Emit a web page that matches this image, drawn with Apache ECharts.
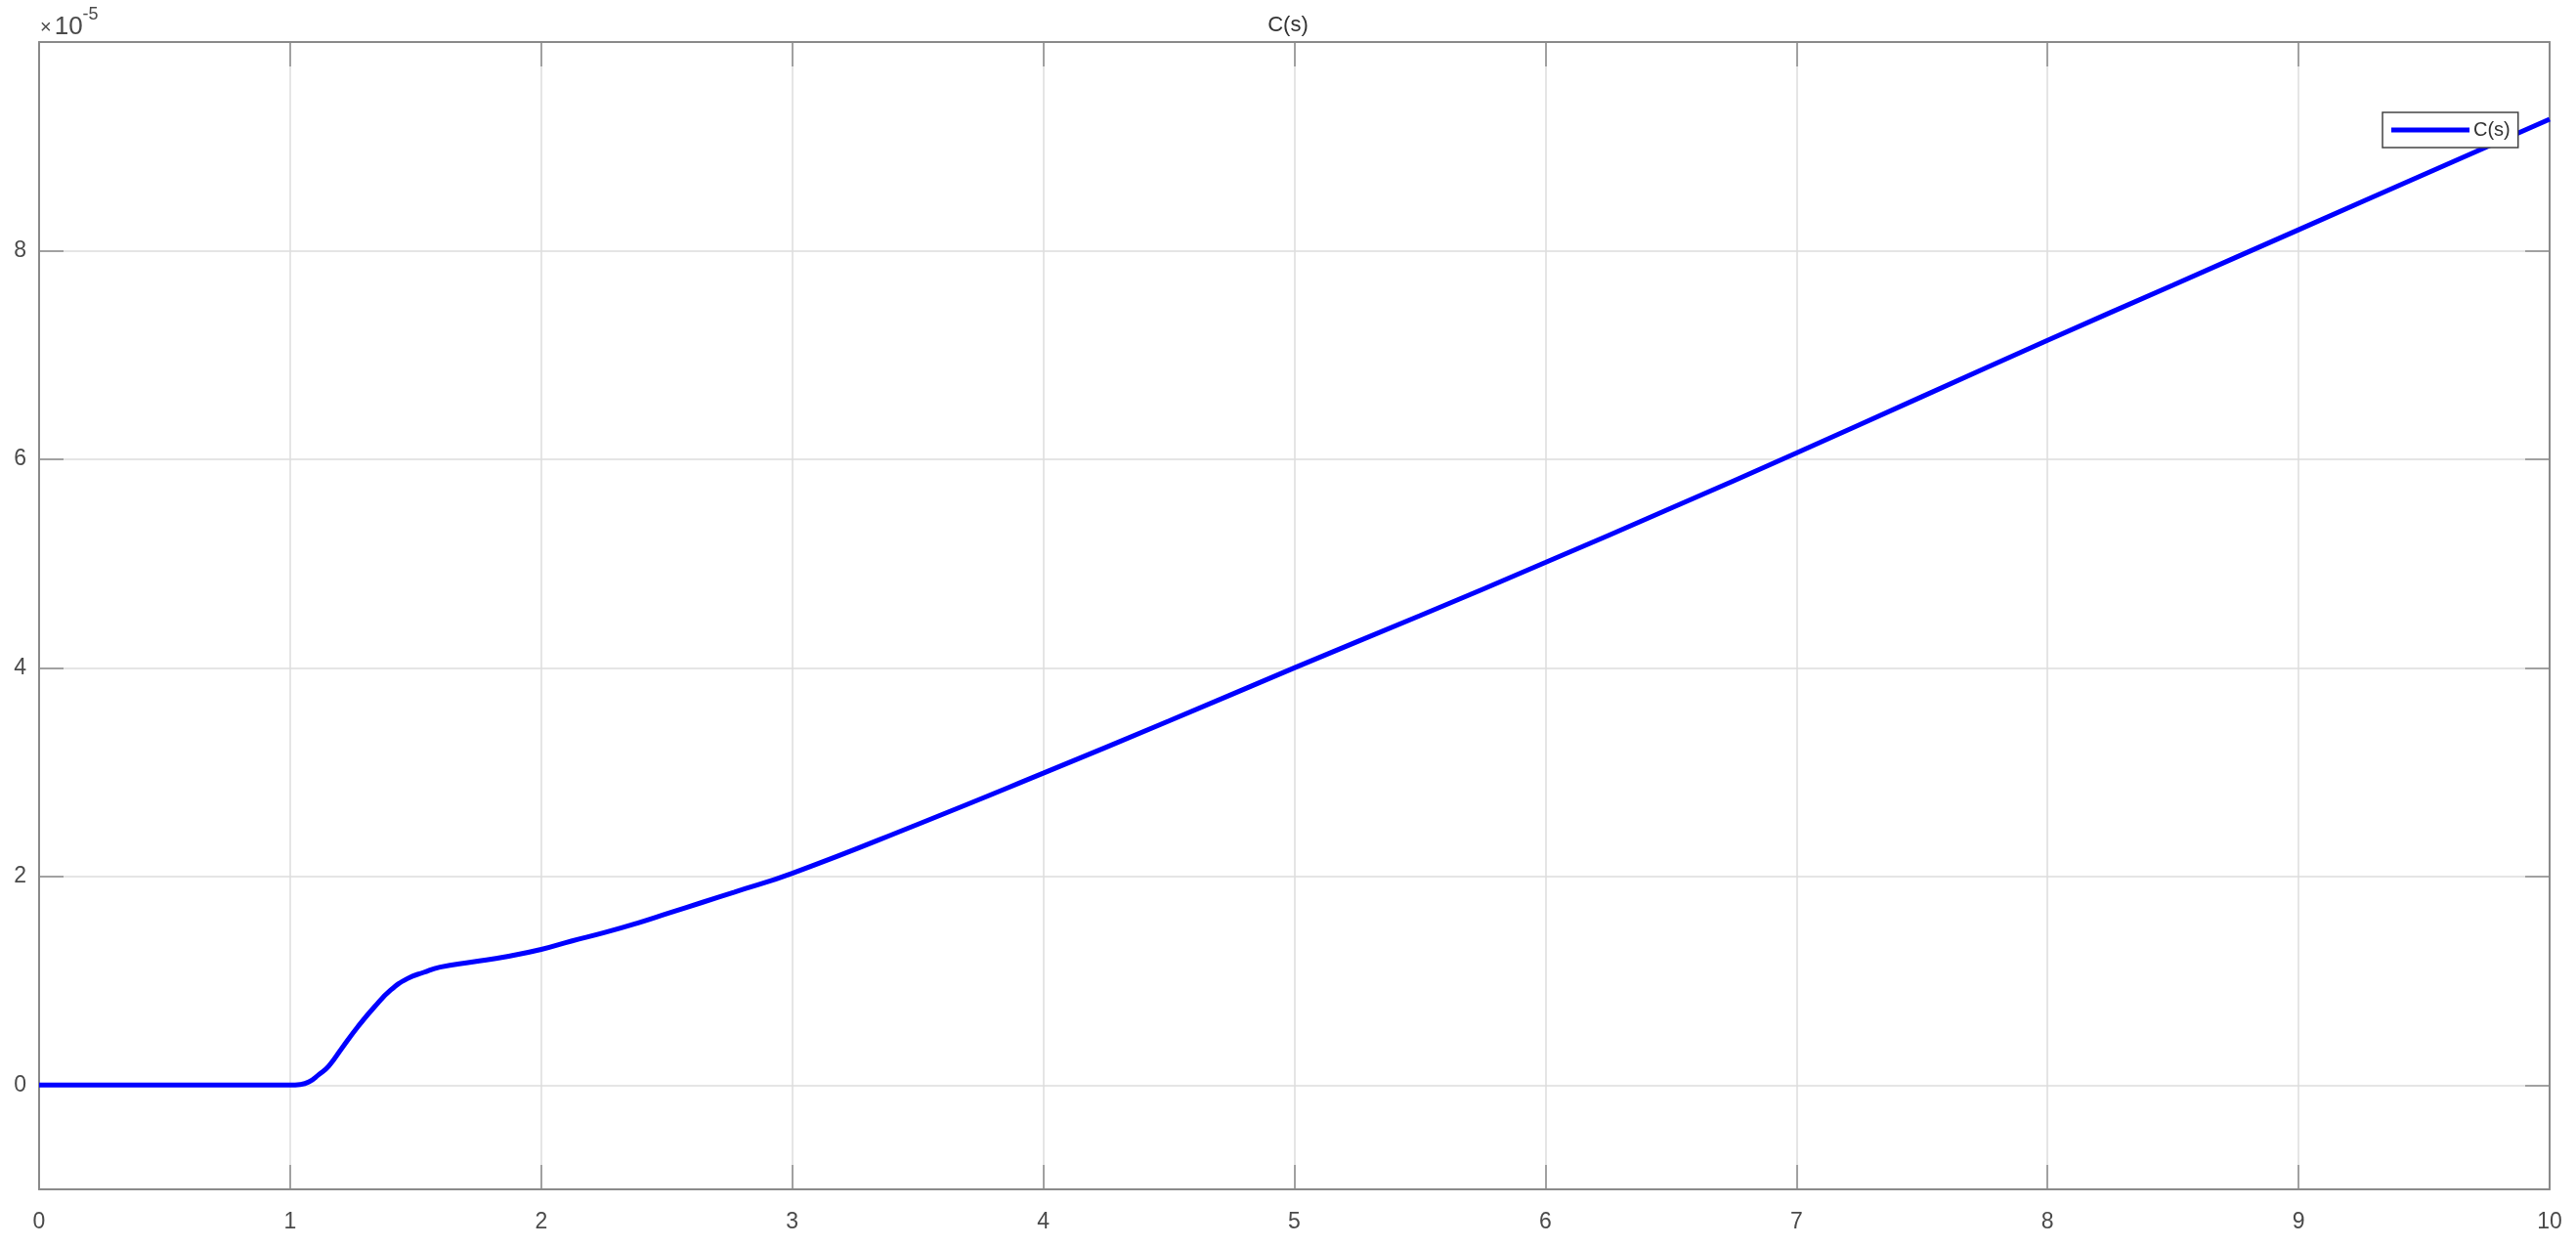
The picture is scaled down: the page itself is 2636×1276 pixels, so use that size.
<!DOCTYPE html>
<html>
<head>
<meta charset="utf-8">
<script src="https://cdn.jsdelivr.net/npm/echarts@6/dist/echarts.min.js"></script>
<style>
html,body{margin:0;padding:0;background:#fff;}
#chart{width:2636px;height:1276px;}
</style>
</head>
<body>
<div id="chart"></div>
<script>
// Time axis (s)
const timeValues = [0, 0.5, 1.0, 1.04, 1.075, 1.114, 1.153, 1.205, 1.27, 1.336, 1.40, 1.467, 1.532, 1.597, 1.728, 1.859, 2.0, 2.12, 2.25, 2.38, 2.51, 2.64, 2.77, 3.0, 3.5, 4.0, 4.5, 5.0, 5.5, 6.0, 6.5, 7.0, 7.5, 8.0, 8.5, 9.0, 9.5, 10.0];
// C(s) values, in units of 10^-5
const cValues = [0, 0, 0, 0.005, 0.03, 0.10, 0.18, 0.35, 0.56, 0.75, 0.91, 1.02, 1.08, 1.13, 1.18, 1.23, 1.30, 1.38, 1.46, 1.55, 1.65, 1.75, 1.85, 2.03, 2.50, 2.99, 3.49, 4.00, 4.50, 5.01, 5.53, 6.06, 6.60, 7.14, 7.67, 8.20, 8.73, 9.26];
const seriesName = 'C(s)';
const chartTitle = 'C(s)';
const xTicks = [0, 1, 2, 3, 4, 5, 6, 7, 8, 9, 10];
const yTicks = [0, 2, 4, 6, 8];
const yExponent = '-5';

const axisColor = '#8a8a8a';
const gridColor = '#dcdcdc';
const labelColor = '#4a4a4a';
const fontFamily = 'Liberation Sans, Arial, Helvetica, sans-serif';

const chart = echarts.init(document.getElementById('chart'));
const data = timeValues.map((t, i) => [t, cValues[i]]);

const baseX = {
  type: 'value', min: 0, max: 10,
  axisLine: {show: true, onZero: false, lineStyle: {color: axisColor, width: 2}},
  axisTick: {show: true, inside: true, length: 25, customValues: xTicks, lineStyle: {color: axisColor, width: 1.5}},
};
const baseY = {
  type: 'value', min: -1, max: 10,
  axisLine: {show: true, onZero: false, lineStyle: {color: axisColor, width: 2}},
  axisTick: {show: true, inside: true, length: 25, customValues: yTicks, lineStyle: {color: axisColor, width: 1.5}},
};

chart.setOption({
  animation: false,
  backgroundColor: '#ffffff',
  textStyle: {fontFamily: fontFamily},
  title: {
    text: chartTitle, left: 'center', top: 10,
    textStyle: {fontSize: 22, fontWeight: 'normal', color: '#333333', fontFamily: fontFamily}
  },
  grid: {left: 40, right: 27, top: 43, bottom: 59, containLabel: false},
  legend: {
    data: [{name: seriesName, icon: 'rect'}],
    left: 2438, top: 115,
    orient: 'vertical',
    padding: [8, 8, 8, 9],
    itemWidth: 80, itemHeight: 5, itemGap: 0,
    backgroundColor: '#ffffff',
    borderColor: '#444444', borderWidth: 1.5, borderRadius: 0,
    itemStyle: {color: '#0000ff'},
    textStyle: {fontSize: 20, color: '#333333', fontFamily: fontFamily, padding: [0, 0, 0, -1]}
  },
  xAxis: [
    Object.assign({}, baseX, {
      position: 'bottom',
      axisLabel: {show: true, customValues: xTicks, fontSize: 23, color: labelColor, margin: 22, showMinLabel: true, showMaxLabel: true, hideOverlap: false},
      splitLine: {show: true, lineStyle: {color: gridColor, width: 1.5}}
    }),
    Object.assign({}, baseX, {
      position: 'top',
      axisLabel: {show: false},
      splitLine: {show: false}
    })
  ],
  yAxis: [
    Object.assign({}, baseY, {
      position: 'left',
      axisLabel: {show: true, customValues: yTicks, fontSize: 23, color: labelColor, margin: 13},
      splitLine: {show: true, lineStyle: {color: gridColor, width: 1.5}}
    }),
    Object.assign({}, baseY, {
      position: 'right',
      axisLabel: {show: false},
      splitLine: {show: false}
    })
  ],
  graphic: [{
    type: 'text', left: 41, top: 6, z: 10,
    style: {
      text: '{a|×}{b|10}{c|' + yExponent + '}',
      rich: {
        a: {fontSize: 20, fill: labelColor, fontFamily: fontFamily, padding: [12, 3, 0, 0]},
        b: {fontSize: 26, fill: labelColor, fontFamily: fontFamily, padding: [12, 0, 0, 0]},
        c: {fontSize: 18, fill: labelColor, fontFamily: fontFamily, padding: [0, 0, 14, 0]}
      }
    }
  }],
  series: [{
    name: seriesName,
    type: 'line',
    xAxisIndex: 0, yAxisIndex: 0,
    data: data,
    symbol: 'none',
    smooth: 0.5,
    lineStyle: {color: '#0000ff', width: 5},
    itemStyle: {color: '#0000ff'},
    clip: true
  }]
});
</script>
</body>
</html>
